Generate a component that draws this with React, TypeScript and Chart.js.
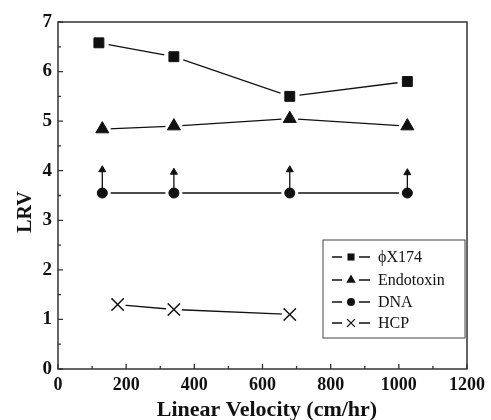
import React, { useEffect, useRef } from "react";
import { Chart, registerables } from "chart.js";

Chart.register(...registerables);

const xPhi = [120, 340, 680, 1025];
const phiValues = [6.58, 6.3, 5.5, 5.8];
const xEndo = [130, 340, 680, 1025];
const endoValues = [4.84, 4.9, 5.05, 4.9];
const xDNA = [130, 340, 680, 1025];
const dnaValues = [3.55, 3.55, 3.55, 3.55];
const dnaArrowTop = [4.02, 3.97, 4.02, 3.96];
const xHCP = [175, 340, 680];
const hcpValues = [1.3, 1.2, 1.1];

const seriesNames = ["\u03D5X174", "Endotoxin", "DNA", "HCP"];
const xTitle = "Linear Velocity (cm/hr)";
const yTitle = "LRV";
const xMin = 0, xMax = 1200, xMajor = 200, xMinor = 100;
const yMin = 0, yMax = 7, yMajor = 1, yMinor = 0.5;

const INK = "#111";
const FONT = "'Liberation Serif', 'Times New Roman', serif";
const HALO = [10, 8.5, 8.5, 8];

const pts = (xs: number[], ys: number[]) => xs.map((x, i) => ({ x, y: ys[i] }));

function drawMarker(ctx: CanvasRenderingContext2D, style: string, x: number, y: number, r: number, color: string, lw = 1.3) {
  ctx.save();
  ctx.fillStyle = color;
  ctx.strokeStyle = color;
  ctx.lineWidth = lw;
  ctx.beginPath();
  if (style === "rect") {
    const s = Math.SQRT1_2 * r;
    ctx.rect(x - s, y - s, 2 * s, 2 * s);
    ctx.fill();
  } else if (style === "triangle") {
    ctx.moveTo(x, y - r);
    ctx.lineTo(x + Math.sin(Math.PI * 2 / 3) * r, y + r / 2);
    ctx.lineTo(x - Math.sin(Math.PI * 2 / 3) * r, y + r / 2);
    ctx.closePath();
    ctx.fill();
  } else if (style === "circle") {
    ctx.arc(x, y, r, 0, Math.PI * 2);
    ctx.fill();
  } else {
    const o = Math.SQRT1_2 * r;
    ctx.moveTo(x - o, y - o);
    ctx.lineTo(x + o, y + o);
    ctx.moveTo(x - o, y + o);
    ctx.lineTo(x + o, y - o);
    ctx.stroke();
  }
  ctx.restore();
}

export default function App() {
  const ref = useRef<HTMLCanvasElement>(null);
  useEffect(() => {
    document.body.style.margin = "0";
    const canvas = ref.current!;
    const arrowData: any[] = [];
    const arrowRadius: number[] = [];
    xDNA.forEach((x, i) => {
      arrowData.push({ x, y: dnaValues[i] }, { x, y: dnaArrowTop[i] }, { x, y: null });
      arrowRadius.push(0, 4, 0);
    });

    const haloPlugin = {
      id: "halo",
      afterDatasetDraw(chart: any, args: any) {
        const i = args.index;
        if (i > 3) return;
        const ctx = chart.ctx;
        const meta = args.meta;
        ctx.save();
        ctx.beginPath();
        const a = chart.chartArea;
        ctx.rect(a.left + 1, a.top + 1, a.right - a.left - 2, a.bottom - a.top - 2);
        ctx.clip();
        meta.data.forEach((pt: any) => {
          ctx.beginPath();
          ctx.fillStyle = "#fff";
          ctx.arc(pt.x, pt.y, HALO[i], 0, Math.PI * 2);
          ctx.fill();
        });
        ctx.restore();
        meta.data.forEach((pt: any) => pt.draw(ctx, chart.chartArea));
      },
    };

    const framePlugin = {
      id: "frame",
      afterDraw(chart: any) {
        const { ctx, chartArea: a, scales } = chart;
        const xs = scales.x, ys = scales.y;
        ctx.save();
        ctx.strokeStyle = "#333";
        ctx.lineWidth = 1.5;
        ctx.strokeRect(a.left, a.top, a.right - a.left, a.bottom - a.top);
        ctx.lineWidth = 1.3;
        ctx.beginPath();
        for (let v = xMin; v <= xMax + 1e-9; v += xMinor) {
          const px = xs.getPixelForValue(v);
          const len = Math.abs(v % xMajor) < 1e-9 ? 5 : 3;
          ctx.moveTo(px, a.bottom);
          ctx.lineTo(px, a.bottom - len);
        }
        for (let v = yMin; v <= yMax + 1e-9; v += yMinor) {
          const py = ys.getPixelForValue(v);
          const len = Math.abs(v % yMajor) < 1e-9 ? 5 : 3;
          ctx.moveTo(a.left, py);
          ctx.lineTo(a.left + len, py);
        }
        ctx.stroke();

        // axis titles
        ctx.fillStyle = INK;
        ctx.font = `bold 22px ${FONT}`;
        ctx.textAlign = "center";
        ctx.textBaseline = "alphabetic";
        ctx.fillText(xTitle, 267, 416);
        ctx.save();
        ctx.font = `bold 20px ${FONT}`;
        ctx.translate(31, 212);
        ctx.rotate(-Math.PI / 2);
        ctx.fillText(yTitle, 0, 0);
        ctx.restore();

        // legend box
        const bx = 323, by = 240, bw = 142, bh = 98;
        ctx.strokeStyle = "#444";
        ctx.lineWidth = 1;
        ctx.strokeRect(bx, by, bw, bh);
        const styles = ["rect", "triangle", "circle", "crossRot"];
        const rows = [257, 280, 302, 323];
        const radii = [5, 5.5, 4, 5.5];
        ctx.font = `16px ${FONT}`;
        ctx.textAlign = "left";
        ctx.textBaseline = "middle";
        rows.forEach((ry, i) => {
          ctx.strokeStyle = INK;
          ctx.lineWidth = 1.3;
          ctx.beginPath();
          ctx.moveTo(332, ry);
          ctx.lineTo(342, ry);
          ctx.moveTo(359, ry);
          ctx.lineTo(370, ry);
          ctx.stroke();
          drawMarker(ctx, styles[i], 351, ry, radii[i], INK);
          ctx.fillStyle = INK;
          ctx.fillText(seriesNames[i], 378, ry + 1);
        });
        ctx.restore();
      },
    };

    const common = {
      showLine: true,
      borderColor: INK,
      backgroundColor: INK,
      pointBorderColor: INK,
      pointBackgroundColor: INK,
      borderWidth: 1.3,
      pointBorderWidth: 1,
    };

    const chart = new Chart(canvas, {
      type: "scatter",
      data: {
        datasets: [
          { ...common, label: seriesNames[0], data: pts(xPhi, phiValues), pointStyle: "rect", pointRadius: 7 },
          { ...common, label: seriesNames[1], data: pts(xEndo, endoValues), pointStyle: "triangle", pointRadius: 7.5 },
          { ...common, label: seriesNames[2], data: pts(xDNA, dnaValues), pointStyle: "circle", pointRadius: 5 },
          { ...common, label: seriesNames[3], data: pts(xHCP, hcpValues), pointStyle: "crossRot", pointRadius: 8.5, pointBorderWidth: 1.5 },
          { ...common, label: "arrows", data: arrowData, pointStyle: "triangle", pointRadius: arrowRadius, spanGaps: false, order: -1 },
        ] as any,
      },
      options: {
        animation: false,
        responsive: false,
        layout: { padding: { top: 22, right: 22, left: 0, bottom: 0 } },
        plugins: { legend: { display: false }, tooltip: { enabled: false } },
        scales: {
          x: {
            type: "linear",
            min: xMin,
            max: xMax,
            grid: { display: false, drawTicks: false },
            border: { display: false },
            afterFit: (s: any) => { s.height = 51; },
            ticks: {
              stepSize: xMinor,
              autoSkip: false,
              maxRotation: 0,
              padding: 6,
              color: INK,
              font: { family: FONT, size: 18, weight: "bold" },
              callback: (v: any) => (Math.abs(v % xMajor) < 1e-9 ? String(v) : ""),
            },
          },
          y: {
            type: "linear",
            min: yMin,
            max: yMax,
            grid: { display: false, drawTicks: false },
            border: { display: false },
            afterFit: (s: any) => { s.width = 58; },
            ticks: {
              stepSize: yMajor,
              padding: 6,
              color: INK,
              font: { family: FONT, size: 19, weight: "bold" },
            },
          },
        },
      } as any,
      plugins: [haloPlugin, framePlugin],
    });
    return () => chart.destroy();
  }, []);

  return (
    <div style={{ width: 491, height: 420, background: "#fff" }}>
      <canvas ref={ref} width={491} height={420} style={{ display: "block" }} />
    </div>
  );
}
